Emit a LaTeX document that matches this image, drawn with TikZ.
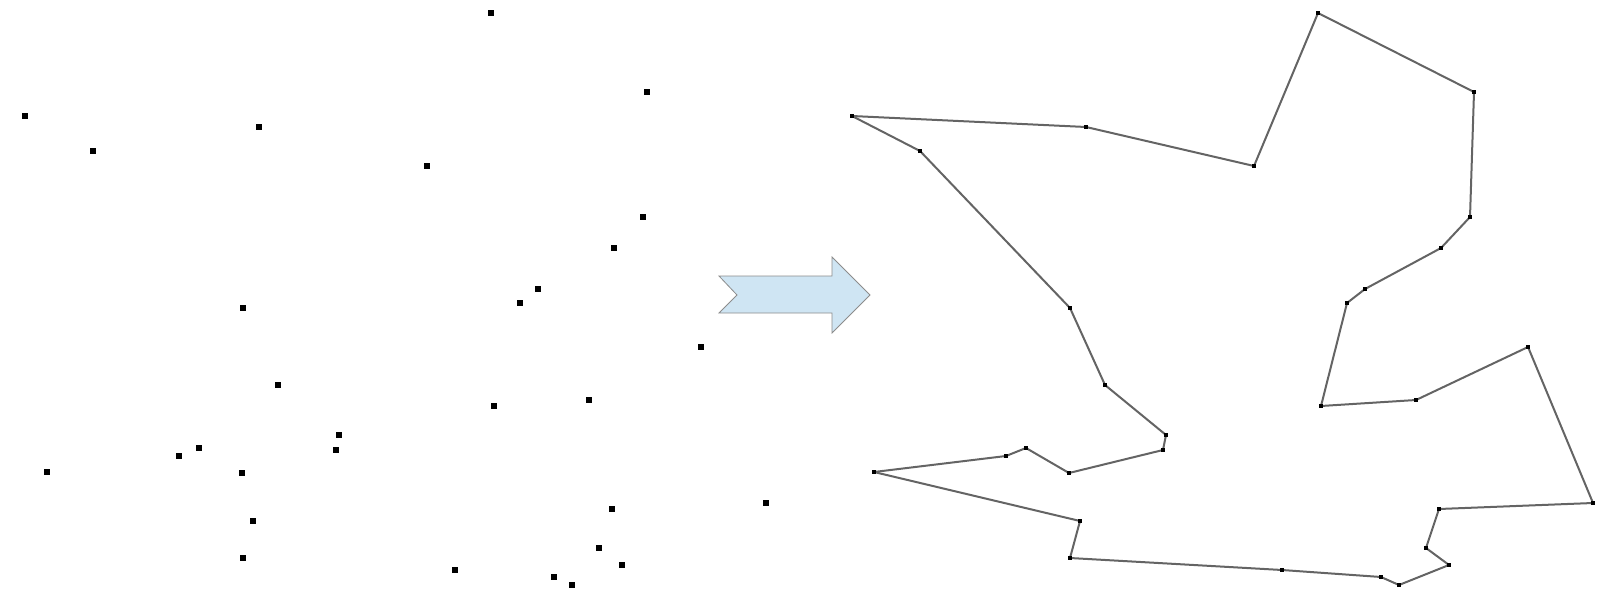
\documentclass[tikz,border=0pt]{standalone}
\definecolor{arrowfill}{RGB}{207,229,243}
\definecolor{arrowedge}{RGB}{140,140,140}
\definecolor{tourline}{RGB}{100,100,100}
\begin{document}
\begin{tikzpicture}[x=1pt,y=-1pt,
  citydot/.style={rectangle,fill=black,inner sep=0pt,minimum size=6pt},
  tourdot/.style={rectangle,fill=black,inner sep=0pt,minimum size=4.5pt},
  tourseg/.style={draw=tourline,line width=2pt,line join=round},
  blockarrow/.style={fill=arrowfill,draw=arrowedge,line width=0.8pt}]
\useasboundingbox (0,0) rectangle (1602,604);
% cities in tour order (left-panel pixel coordinates)
\def\cities{25/116,259/127,427/166,491/13,647/92,643/217,614/248,538/289,520/303,494/406,589/400,701/347,766/503,612/509,599/548,622/565,572/585,554/577,455/570,243/558,253/521,47/472,179/456,199/448,242/473,336/450,339/435,278/385,243/308,93/151}
% left panel: cities
\foreach \x/\y [count=\i] in \cities {
  \node[citydot] (p\i) at (\x,\y) {};
}
% right panel: coordinates shifted by 827px
\foreach \x/\y [count=\i] in \cities {
  \coordinate (q\i) at (\x+827,\y);
}
% tour
\foreach \i [evaluate=\i as \j using {int(mod(\i,30)+1)}] in {1,...,30} {
  \draw[tourseg] (q\i) -- (q\j);
}
\foreach \i in {1,...,30} {
  \node[tourdot] (r\i) at (q\i) {};
}
% block arrow
\draw[blockarrow] (719,276) -- (832,276) -- (832,257) -- (870,295) -- (832,333) -- (832,313) -- (719,313) -- (737,295) -- cycle;
\end{tikzpicture}
\end{document}
